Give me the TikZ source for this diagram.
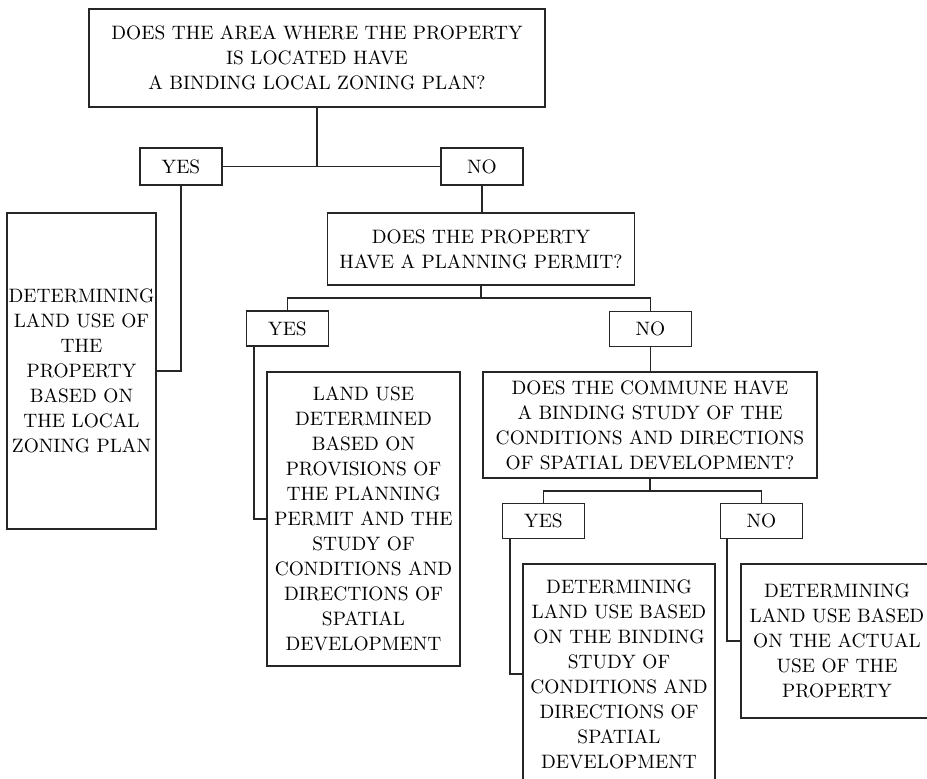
\documentclass[tikz,border=0pt]{standalone}
\usepackage{tikz}
\usetikzlibrary{positioning, calc}

\begin{document}
\begin{tikzpicture}[x=0.5pt, y=-0.5pt,
    font=\fontsize{9.7}{12.5}\selectfont,
    box/.style={draw=black!85, line width=0.6pt, align=center, inner sep=0pt},
    answer/.style={box, minimum width=41pt, minimum height=17.5pt},
    link/.style={draw=black!85, line width=0.6pt}]
        \useasboundingbox (0,0) rectangle (927,779);
        \clip (0,0) rectangle (927,779);

        % First question
        \node[box, minimum width=228pt, minimum height=49pt] (zoning) at (317,58)
            {DOES THE AREA WHERE THE PROPERTY\\IS LOCATED HAVE\\A BINDING LOCAL ZONING PLAN?};
        \node[answer, minimum height=18.5pt] (zoningyes) at (181,166.5) {YES};
        \node[answer, minimum height=18.5pt] (zoningno) at (482,166.5) {NO};
        \node[box, minimum width=74.5pt, minimum height=158pt] (byplan) at (81.5,371)
            {DETERMINING\\LAND USE OF\\THE\\PROPERTY\\BASED ON\\THE LOCAL\\ZONING PLAN};

        % Second question
        \node[box, minimum width=153.5pt, minimum height=36pt] (permit) at (481,249)
            {DOES THE PROPERTY\\HAVE A PLANNING PERMIT?};
        \node[answer] (permityes) at (287.5,328.5) {YES};
        \node[answer] (permitno) at (650.5,329) {NO};
        \node[box, minimum width=96.5pt, minimum height=147pt] (bypermit) at (363.5,519)
            {LAND USE\\DETERMINED\\BASED ON\\PROVISIONS OF\\THE PLANNING\\PERMIT AND THE\\STUDY OF\\CONDITIONS AND\\DIRECTIONS OF\\SPATIAL\\DEVELOPMENT};

        % Third question
        \node[box, minimum width=167pt, minimum height=53pt] (study) at (650,425)
            {DOES THE COMMUNE HAVE\\A BINDING STUDY OF THE\\CONDITIONS AND DIRECTIONS\\OF SPATIAL DEVELOPMENT?};
        \node[answer] (studyyes) at (543.5,521) {YES};
        \node[answer] (studyno) at (761.5,521) {NO};
        \node[box, minimum width=96pt, minimum height=110pt] (bystudy) at (619,674)
            {DETERMINING\\LAND USE BASED\\ON THE BINDING\\STUDY OF\\CONDITIONS AND\\DIRECTIONS OF\\SPATIAL\\DEVELOPMENT};
        \node[box, minimum width=96pt, minimum height=77pt] (byactual) at (837,641)
            {DETERMINING\\LAND USE BASED\\ON THE ACTUAL\\USE OF THE\\PROPERTY};

        % Connecting lines
        \coordinate (permitjoin) at (481,298);
        \coordinate (studyjoin) at (650,491);
        \draw[link] (zoning) -- (zoning |- zoningyes);
        \draw[link] (zoningyes) -- (zoningno);
        \draw[link] (zoningyes) |- (byplan);
        \draw[link] (zoningno) -- (zoningno |- permit.north);
        \draw[link] (permit) -- (permitjoin);
        \draw[link] (permityes) |- (permitjoin) -| (permitno);
        \draw[link] ([xshift=4pt]permityes.south west) |- (bypermit);
        \draw[link] (permitno) -- (permitno |- study.north);
        \draw[link] (study) -- (studyjoin);
        \draw[link] (studyyes) |- (studyjoin) -| (studyno);
        \draw[link] ([xshift=4pt]studyyes.south west) |- (bystudy);
        \draw[link] ([xshift=3.5pt]studyno.south west) |- (byactual);
    \end{tikzpicture}
\end{document}
